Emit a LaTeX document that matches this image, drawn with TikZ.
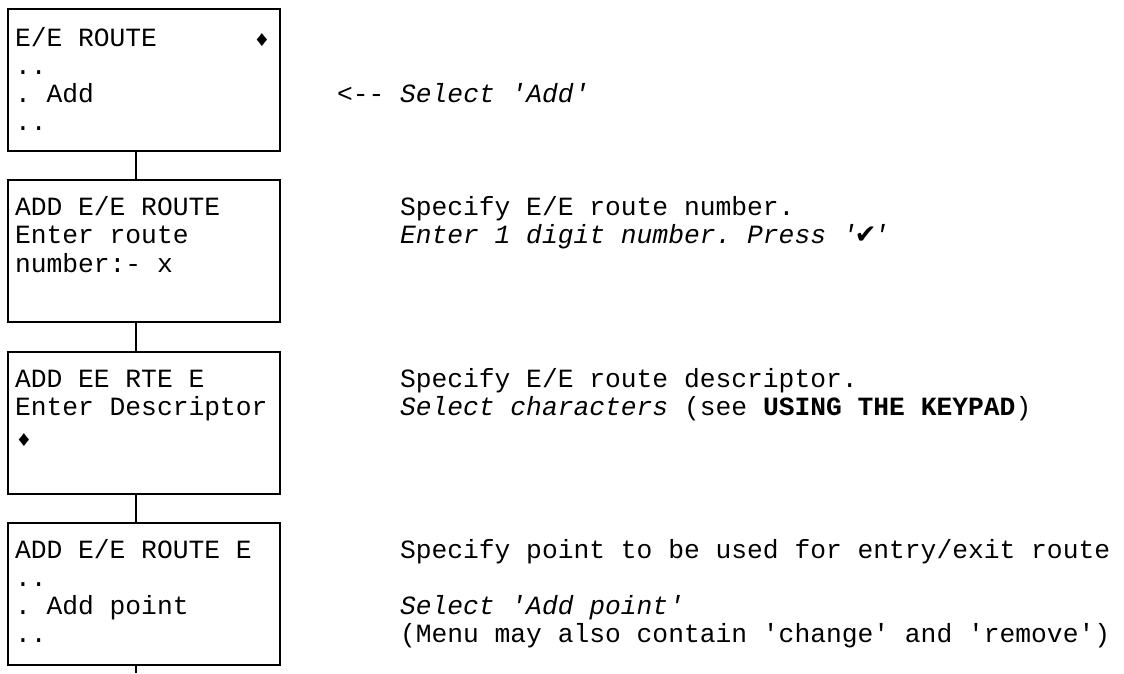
\documentclass[tikz,border=0pt]{standalone}
\usepackage{fontspec}
\setmonofont{Liberation Mono}
\newfontfamily\symfont{DejaVu Sans}
\begin{document}
\begin{tikzpicture}[x=1pt,y=-1pt,
  screen/.style={draw, line width=1.6pt, rectangle, minimum width=272pt,
    minimum height=142pt, anchor=north west, inner sep=0pt, outer sep=0pt},
  txt/.style={anchor=base west, inner sep=0pt, outer sep=0pt,
    font=\ttfamily\fontsize{26.3}{28}\selectfont},
  cursor/.style={inner sep=0pt, outer sep=0pt,
    font=\ttfamily\fontsize{22}{22}\selectfont},
  link/.style={line width=1.6pt}]
\useasboundingbox (0,0) rectangle (1124,673);

% display screens
\node[screen] (b1) at (8,9) {};
\node[screen] (b2) at (8,180) {};
\node[screen] (b3) at (8,352) {};
\node[screen] (b4) at (8,523) {};

% links between screens
\coordinate (tail) at (136,673);
\draw[link] ([xshift=-8pt]b1.south) -- ([xshift=-8pt]b2.north);
\draw[link] ([xshift=-8pt]b2.south) -- ([xshift=-8pt]b3.north);
\draw[link] ([xshift=-8pt]b3.south) -- ([xshift=-8pt]b4.north);
\draw[link] ([xshift=-8pt]b4.south) -- (tail);

% screen 1
\node[txt] (s1a) at (15,46) {E/E ROUTE};
\node[cursor] (s1d) at (262,40) {♦};
\node[txt] (s1b) at (15,74) {..};
\node[txt] (s1c) at (15,102) {. Add};
\node[txt] (s1e) at (15,130) {..};
\node[txt] (n1a) at (337,102) {<-{}- \textit{Select 'Add'}};

% screen 2
\node[txt] (s2a) at (15,215) {ADD E/E ROUTE};
\node[txt] (s2b) at (15,243) {Enter route};
\node[txt] (s2c) at (15,272) {number:- x};
\node[txt] (n2a) at (400,215) {Specify E/E route number.};
\node[txt] (n2b) at (400,243) {\textit{Enter 1 digit number. Press '}\makebox[0.6em]{\symfont\itshape ✔}\textit{'}};

% screen 3
\node[txt] (s3a) at (15,387) {ADD EE RTE E};
\node[txt] (s3b) at (15,415) {Enter Descriptor};
\node[cursor] (s3d) at (24,440) {♦};
\node[txt] (n3a) at (400,387) {Specify E/E route descriptor.};
\node[txt] (n3b) at (400,415) {\textit{Select characters} (see \textbf{USING THE KEYPAD})};

% screen 4
\node[txt] (s4a) at (15,558) {ADD E/E ROUTE E};
\node[txt] (s4b) at (15,586) {..};
\node[txt] (s4c) at (15,614) {. Add point};
\node[txt] (s4e) at (15,642) {..};
\node[txt] (n4a) at (400,558) {Specify point to be used for entry/exit route};
\node[txt] (n4b) at (400,614) {\textit{Select 'Add point'}};
\node[txt] (n4c) at (400,642) {(Menu may also contain 'change' and 'remove')};
\end{tikzpicture}
\end{document}
